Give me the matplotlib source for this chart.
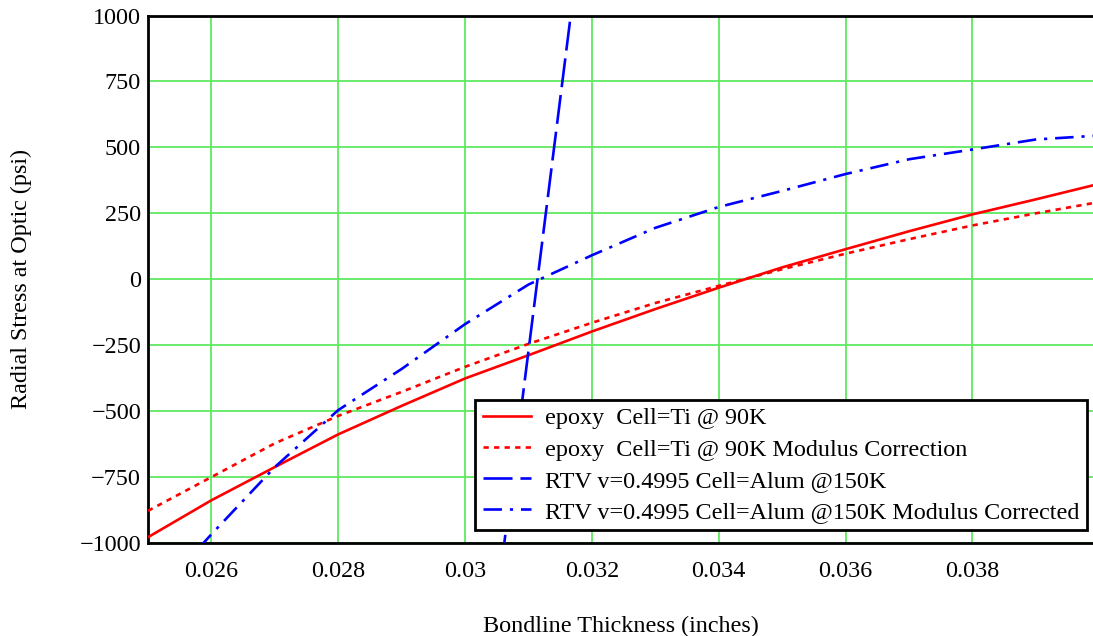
import matplotlib
matplotlib.use("Agg")
import matplotlib.pyplot as plt
from matplotlib.ticker import FuncFormatter, MultipleLocator

# Bondline thickness sample points (inches)
thickness = [0.025, 0.026, 0.027, 0.028, 0.029, 0.030, 0.031, 0.032,
             0.033, 0.034, 0.035, 0.036, 0.037, 0.038, 0.039, 0.040]

# Radial stress at optic (psi)
epoxy_ti_90k = [-978, -838, -712, -588, -480, -376, -288, -198,
                -113, -32, 45, 114, 182, 246, 303, 362]
epoxy_ti_90k_mod = [-878, -750, -622, -518, -427, -332, -245, -165,
                    -90, -25, 38, 97, 152, 204, 250, 293]
rtv_alum_150k_mod = [-1230, -967, -712, -496, -340, -170, -20, 91,
                     195, 274, 335, 399, 455, 492, 530, 545]

rtv_thickness = [0.030, 0.031, 0.032]
rtv_alum_150k = [-2180, -270, 1640]

series_labels = [
    "epoxy  Cell=Ti @ 90K",
    "epoxy  Cell=Ti @ 90K Modulus Correction",
    "RTV v=0.4995 Cell=Alum @150K",
    "RTV v=0.4995 Cell=Alum @150K Modulus Corrected",
]

x_limits = (0.025, 0.0399)
y_limits = (-1000, 1000)

FS = 17.4
plt.rcParams["font.family"] = ["Liberation Serif", "DejaVu Serif"]
plt.rcParams["font.size"] = FS

fig = plt.figure(figsize=(10.93, 6.36), dpi=100)
ax = fig.add_axes([148 / 1093, 93 / 636, (1093 - 148) / 1093, (543 - 15.5) / 636])

lw = 1.9
ax.plot(thickness, epoxy_ti_90k, color="red", lw=lw, ls="-", label=series_labels[0],
        zorder=3)
ax.plot(thickness, epoxy_ti_90k_mod, color="red", lw=lw, ls=(0, (2.0, 2.0)),
        label=series_labels[1], zorder=3)
ax.plot(rtv_thickness, rtv_alum_150k, color="blue", lw=lw, ls=(0, (11, 3)),
        label=series_labels[2], zorder=3)
ax.plot(thickness, rtv_alum_150k_mod, color="blue", lw=lw, ls=(0, (7, 3, 1.2, 3)),
        label=series_labels[3], zorder=3)

ax.set_xlim(*x_limits)
ax.set_ylim(*y_limits)
ax.xaxis.set_major_locator(MultipleLocator(0.002))
ax.yaxis.set_major_locator(MultipleLocator(250))
ax.xaxis.set_major_formatter(FuncFormatter(lambda v, p: f"{v:g}"))
ax.yaxis.set_major_formatter(FuncFormatter(lambda v, p: f"{int(round(v))}".replace("-", "\u2212")))

ax.grid(True, color="#5fe85f", lw=1.3, zorder=0)
ax.set_axisbelow(True)
ax.tick_params(length=0, labelsize=FS)
ax.tick_params(axis="x", pad=13)
ax.tick_params(axis="y", pad=5)

for side in ("left", "bottom", "top"):
    ax.spines[side].set_color("black")
    ax.spines[side].set_linewidth(2)
ax.spines["right"].set_visible(False)

ax.set_xlabel("Bondline Thickness (inches)", fontsize=FS, labelpad=24)
ax.set_ylabel("Radial Stress at Optic (psi)", fontsize=FS, labelpad=34)

leg = ax.legend(loc="lower right", bbox_to_anchor=(0.9937, 0.0247),
                fancybox=False, framealpha=1, edgecolor="black",
                fontsize=FS, handlelength=2.0, handletextpad=0.6,
                labelspacing=0.38, borderpad=0.3, borderaxespad=0)
leg.get_frame().set_linewidth(2)
leg.set_zorder(4)

fig.savefig("out.png", dpi=100)
